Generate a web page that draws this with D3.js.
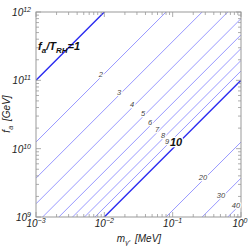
<!DOCTYPE html>
<html>
<head>
<meta charset="utf-8">
<script src="https://cdn.jsdelivr.net/npm/d3@7"></script>
<style>
  body { margin: 0; background: #fff; }
  text { font-family: "Liberation Sans", Arial, sans-serif; }
</style>
</head>
<body>
<svg id="chart" width="249" height="246"></svg>
<script>
// contour values of f_a / T_RH
var ratios = [1, 2, 3, 4, 5, 6, 7, 8, 9, 10, 20, 30, 40];
var thick = [1, 10];
// mass (MeV) where each contour label sits
var labelMass = [null, 0.0089, 0.0164, 0.0254, 0.0368, 0.0466, 0.059, 0.0722, 0.0827, 0.112, 0.278, 0.51, 0.845];
var xTicks = [1e-3, 1e-2, 1e-1, 1];
var xTickExp = ['-3', '-2', '-1', '0'];
var yTicks = [1e9, 1e10, 1e11, 1e12];
var yTickExp = ['9', '10', '11', '12'];
var norm = 1e14; // f_a [GeV] = norm * m / ratio^3

var svg = d3.select('#chart'),
    pLeft = 36, pRight = 241, pTop = 12, pBottom = 217;

var x = d3.scaleLog().domain([1e-3, 1]).range([pLeft, pRight]);
var y = d3.scaleLog().domain([1e9, 1e12]).range([pBottom, pTop]);

svg.append('clipPath').attr('id', 'clip')
  .append('rect').attr('x', pLeft).attr('y', pTop)
  .attr('width', pRight - pLeft).attr('height', pBottom - pTop);

var fa = function (m, r) { return norm * m / Math.pow(r, 3); };
var line = d3.line().x(function (d) { return x(d[0]); }).y(function (d) { return y(d[1]); });

var lines = svg.append('g').attr('clip-path', 'url(#clip)').attr('fill', 'none');
ratios.forEach(function (r) {
  var isThick = thick.indexOf(r) >= 0;
  lines.append('path')
    .attr('d', line([[1e-3, fa(1e-3, r)], [1, fa(1, r)]]))
    .attr('stroke', isThick ? '#2a2af0' : '#9898ff')
    .attr('stroke-width', isThick ? 1.4 : 1);
});

// frame + ticks
svg.append('rect').attr('x', pLeft).attr('y', pTop)
  .attr('width', pRight - pLeft).attr('height', pBottom - pTop)
  .attr('fill', 'none').attr('stroke', '#999').attr('stroke-width', 1);

var minor = function (dom) {
  var out = [];
  for (var e = Math.round(Math.log10(dom[0])); e < Math.round(Math.log10(dom[1])); e++) {
    for (var k = 2; k <= 9; k++) out.push(k * Math.pow(10, e));
  }
  return out;
};
var tg = svg.append('g').attr('stroke', '#999').attr('stroke-width', 0.8);
var xtickSet = function (vals, len) {
  vals.forEach(function (v) {
    var px = x(v);
    tg.append('line').attr('x1', px).attr('x2', px).attr('y1', pBottom).attr('y2', pBottom - len);
    tg.append('line').attr('x1', px).attr('x2', px).attr('y1', pTop).attr('y2', pTop + len);
  });
};
xtickSet(xTicks, 5);
xtickSet(minor(x.domain()), 3);
var ytickSet = function (vals, len) {
  vals.forEach(function (v) {
    var py = y(v);
    tg.append('line').attr('y1', py).attr('y2', py).attr('x1', pLeft).attr('x2', pLeft + len);
    tg.append('line').attr('y1', py).attr('y2', py).attr('x1', pRight).attr('x2', pRight - len);
  });
};
ytickSet(yTicks, 5);
ytickSet(minor(y.domain()), 3);

// tick labels
xTicks.forEach(function (v, i) {
  var t = svg.append('text').attr('x', x(v) + (i === 3 ? -1 : 0)).attr('y', 227)
    .attr('text-anchor', 'middle').attr('font-style', 'italic')
    .attr('font-size', 10).attr('fill', '#222');
  t.append('tspan').text('10');
  t.append('tspan').attr('dy', -4).attr('font-size', 7).text(xTickExp[i].replace('-', '\u2212'));
});
yTicks.forEach(function (v, i) {
  var t = svg.append('text').attr('x', 31).attr('y', y(v) + 4)
    .attr('text-anchor', 'end').attr('font-style', 'italic')
    .attr('font-size', 10).attr('fill', '#222');
  t.append('tspan').text('10');
  t.append('tspan').attr('dy', -4).attr('font-size', 7).text(yTickExp[i]);
});

// axis titles
var xt = svg.append('text').attr('x', 139).attr('y', 242).attr('text-anchor', 'middle')
  .attr('font-style', 'italic').attr('font-size', 10).attr('fill', '#222');
xt.append('tspan').text('m');
xt.append('tspan').attr('dy', 3).attr('font-size', 7).text('\u03b3\u2032');
xt.append('tspan').attr('dy', -3).attr('dx', 5).text('[MeV]');

var yt = svg.append('text').attr('transform', 'translate(10,114) rotate(-90)')
  .attr('text-anchor', 'middle').attr('font-style', 'italic')
  .attr('font-size', 10).attr('fill', '#222');
yt.append('tspan').text('f');
yt.append('tspan').attr('dy', 3).attr('font-size', 7).text('a');
yt.append('tspan').attr('dy', -3).attr('dx', 5).text('[GeV]');

// contour labels
ratios.forEach(function (r, i) {
  if (labelMass[i] == null) return;
  var big = r === 10;
  svg.append('text')
    .attr('x', x(labelMass[i])).attr('y', y(fa(labelMass[i], r)) - 3)
    .attr('dominant-baseline', 'central').attr('text-anchor', 'middle')
    .attr('font-style', 'italic')
    .attr('font-weight', big ? 'bold' : 'normal')
    .attr('font-size', big ? 11 : 7.5)
    .attr('fill', big ? '#111' : '#444')
    .attr('stroke', '#fff').attr('stroke-width', 2.5)
    .attr('paint-order', 'stroke')
    .text(r);
});

// f_a/T_RH = 1 annotation
var ann = svg.append('text').attr('x', 38).attr('y', 50)
  .attr('font-style', 'italic').attr('font-weight', 'bold')
  .attr('font-size', 11).attr('fill', '#111');
ann.append('tspan').text('f');
ann.append('tspan').attr('dy', 2.5).attr('font-size', 8).text('a');
ann.append('tspan').attr('dy', -2.5).text('/T');
ann.append('tspan').attr('dy', 2.5).attr('font-size', 8).text('RH');
ann.append('tspan').attr('dy', -2.5).text('=1');
</script>
</body>
</html>
